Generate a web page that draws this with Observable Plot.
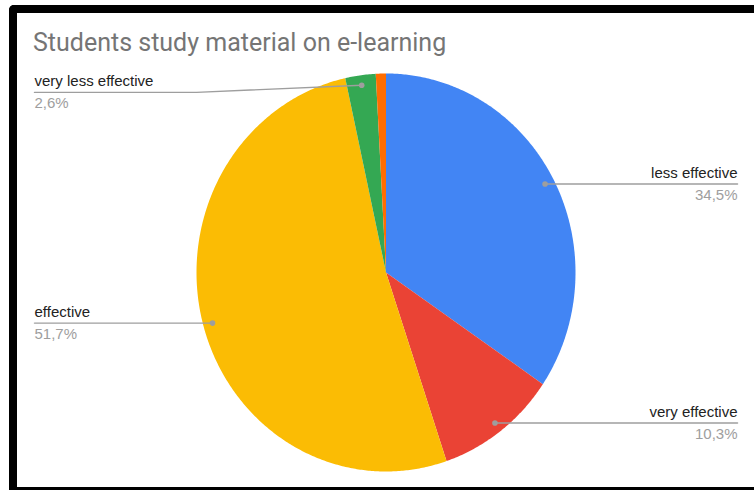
<!DOCTYPE html>
<html>
<head>
<meta charset="utf-8">
<script src="https://cdn.jsdelivr.net/npm/d3@7"></script>
<script src="https://cdn.jsdelivr.net/npm/@observablehq/plot@0.6"></script>
<style>
  html, body { margin: 0; padding: 0; background: #fff; overflow: hidden; width: 754px; height: 490px; }
  #frame { position: absolute; left: 9px; top: 5px; width: 800px; height: 474px;
           border-top: 8px solid #000; border-left: 8px solid #000; border-bottom: 3px solid #000;
           border-top-left-radius: 5px; box-sizing: content-box; }
  #title { position: absolute; left: 33px; top: 29px; font-family: Roboto, sans-serif; font-size: 25px;
           line-height: 28px; color: #757575; white-space: nowrap; }
  #chart { position: absolute; left: 0; top: 0; }
</style>
</head>
<body>
<div id="frame"></div>
<div id="chart"></div>
<div id="title">Students study material on e-learning</div>
<script>
// Data (counts of students; percentages computed from them)
const categories = ["less effective", "very effective", "effective", "very less effective", "no answer"];
const counts = [40, 12, 60, 3, 1];
const colors = ["#4285F4", "#EA4335", "#FBBC04", "#34A853", "#FF6D01"];
const labelled = [true, true, true, true, false];

const total = d3.sum(counts);
let acc = 0;
const slices = categories.map((name, i) => {
  const start = acc / total * 2 * Math.PI;
  acc += counts[i];
  const end = acc / total * 2 * Math.PI;
  return { name, value: counts[i], pct: counts[i] / total * 100, start, end, mid: (start + end) / 2, labelled: labelled[i] };
});

// Polygon points for each slice (angle clockwise from 12 o'clock)
const polyPts = [];
for (const s of slices) {
  polyPts.push({ name: s.name, x: 0, y: 0 });
  const n = Math.max(2, Math.ceil((s.end - s.start) / (Math.PI / 360)));
  for (let k = 0; k <= n; k++) {
    const a = s.start + (s.end - s.start) * k / n;
    polyPts.push({ name: s.name, x: Math.sin(a), y: Math.cos(a) });
  }
  polyPts.push({ name: s.name, x: 0, y: 0 });
}

const labelSide = 1.855;
const dotR = 0.95;
const lab = slices.filter(s => s.labelled).map(s => {
  const dx = dotR * Math.sin(s.mid), dy = dotR * Math.cos(s.mid);
  const side = dx >= 0 ? 1 : -1;
  const ly = side < 0 ? Math.min(dy, 0.905) : dy;
  return { ...s, dx, dy, side, ly, lx: side * labelSide, inner: side * 1.0 };
});
const right = lab.filter(d => d.side > 0);
const left = lab.filter(d => d.side < 0);
const leaderPts = lab.flatMap(l => [
  { name: l.name, x: l.dx, y: l.dy },
  { name: l.name, x: l.inner, y: l.ly },
  { name: l.name, x: l.lx, y: l.ly }
]);
const fmt = v => v.toFixed(1).replace(".", ",") + "%";
const font = "Arial, 'Liberation Sans', sans-serif";

const labelMarks = (data, anchor) => [
  Plot.text(data, { x: "lx", y: "ly", text: "name", dy: -11, textAnchor: anchor,
    fontFamily: font, fontSize: 15, fill: "#222" }),
  Plot.text(data, { x: "lx", y: "ly", text: d => fmt(d.pct), dy: 11, textAnchor: anchor,
    fontFamily: font, fontSize: 15, fill: "#9e9e9e" })
];

const chart = Plot.plot({
  width: 754,
  height: 490,
  margin: 0,
  style: { background: "transparent", overflow: "visible" },
  x: { domain: [-1, 1], range: [196, 575], axis: null },
  y: { domain: [-1, 1], range: [471, 73], axis: null },
  color: { domain: categories, range: colors },
  marks: [
    Plot.line(polyPts, { x: "x", y: "y", z: "name", fill: "name", stroke: "none", curve: "linear" }),
    Plot.line(leaderPts, { x: "x", y: "y", z: "name", stroke: "#9e9e9e", strokeWidth: 1.4, curve: "linear" }),
    Plot.dot(lab, { x: "dx", y: "dy", r: 2.8, fill: "#9e9e9e", stroke: "none" }),
    ...labelMarks(right, "end"),
    ...labelMarks(left, "start")
  ]
});
document.getElementById("chart").appendChild(chart);
</script>
</body>
</html>
